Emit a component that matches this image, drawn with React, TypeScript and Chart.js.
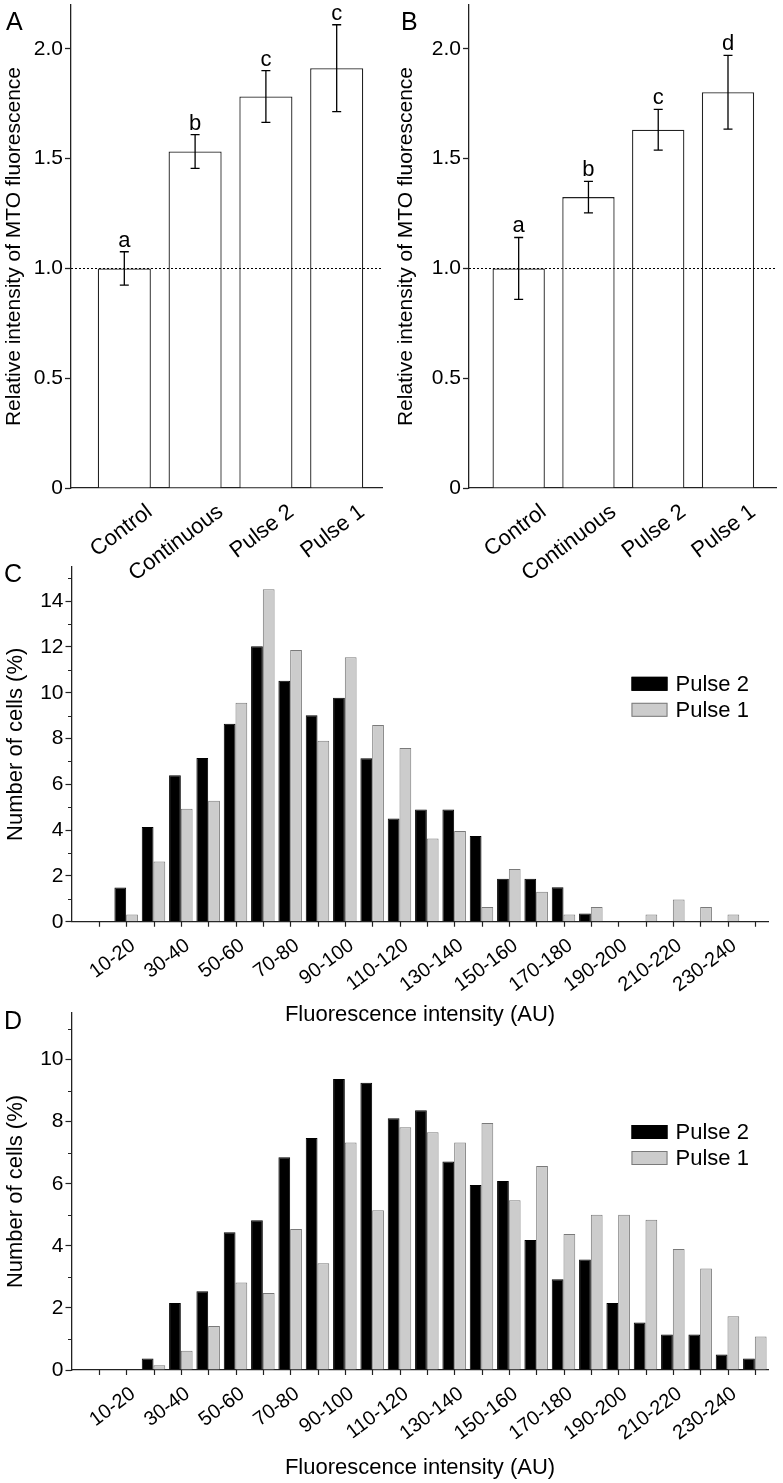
import React, { useEffect, useRef } from 'react';
import { Chart, registerables } from 'chart.js';

Chart.register(...registerables);

const FONT = '"Liberation Sans", Arial, Helvetica, sans-serif';
Chart.defaults.font.family = FONT;

// ---------- Panels A & B ----------
const treatments = ['Control', 'Continuous', 'Pulse 2', 'Pulse 1'];
const meanA = [1.0, 1.533, 1.783, 1.912];
const errA = [0.076, 0.077, 0.118, 0.198];
const lettersA = ['a', 'b', 'c', 'c'];
const meanB = [1.0, 1.325, 1.632, 1.803];
const errB = [0.141, 0.072, 0.093, 0.168];
const lettersB = ['a', 'b', 'c', 'd'];
const yTicksAB = [0, 0.5, 1, 1.5, 2];
const yTickLabelsAB = ['0', '0.5', '1.0', '1.5', '2.0'];
const refLineValue = 1;

// ---------- Panels C & D ----------
const bins = [
  '0-10', '10-20', '20-30', '30-40', '40-50', '50-60', '60-70', '70-80', '80-90', '90-100',
  '100-110', '110-120', '120-130', '130-140', '140-150', '150-160', '160-170', '170-180',
  '180-190', '190-200', '200-210', '210-220', '220-230', '230-240', '240-250',
];
const pulse2C = [0, 1.5, 4.14, 6.4, 7.15, 8.65, 12.03, 10.52, 9.02, 9.78, 7.14, 4.51, 4.9, 4.9, 3.75, 1.88, 1.88, 1.51, 0.36, 0, 0, 0, 0, 0, 0];
const pulse1C = [0, 0.32, 2.63, 4.94, 5.29, 9.56, 14.52, 11.87, 7.91, 11.55, 8.59, 7.59, 3.64, 3.96, 0.65, 2.3, 1.31, 0.32, 0.65, 0, 0.32, 0.97, 0.65, 0.32, 0];
const pulse2D = [0, 0, 0.37, 2.16, 2.54, 4.44, 4.82, 6.85, 7.47, 9.37, 9.25, 8.11, 8.37, 6.72, 5.96, 6.09, 4.19, 2.92, 3.56, 2.16, 1.53, 1.14, 1.14, 0.5, 0.37];
const pulse1D = [0, 0, 0.15, 0.62, 1.42, 2.82, 2.48, 4.54, 3.44, 7.33, 5.15, 7.82, 7.66, 7.33, 7.96, 5.47, 6.57, 4.38, 5.0, 5.0, 4.84, 3.9, 3.27, 1.73, 1.08];
const yTicksC = [0, 2, 4, 6, 8, 10, 12, 14];
const yMinorC = [1, 3, 5, 7, 9, 11, 13, 15];
const yTicksD = [0, 2, 4, 6, 8, 10];
const yMinorD = [1, 3, 5, 7, 9, 11];
const seriesNames = ['Pulse 2', 'Pulse 1'];

const AXIS = '#222';
const LABEL_SHIFT_AB = 0.36;
const LABEL_SHIFT_CD = 0.25;

function makeAnnot(errs: number[], letters: string[]) {
  return {
    id: 'annot',
    afterDatasetsDraw(chart: any) {
      const { ctx, chartArea } = chart;
      const y = chart.scales.y;
      const meta = chart.getDatasetMeta(0);
      const data = chart.data.datasets[0].data;
      ctx.save();
      ctx.strokeStyle = '#000';
      ctx.lineWidth = 1.2;
      ctx.setLineDash([2, 2]);
      const yr = Math.round(y.getPixelForValue(refLineValue)) + 0.5;
      ctx.beginPath();
      ctx.moveTo(chartArea.left, yr);
      ctx.lineTo(chartArea.right, yr);
      ctx.stroke();
      ctx.setLineDash([]);
      ctx.lineWidth = 1.3;
      ctx.fillStyle = '#000';
      ctx.font = `22px ${FONT}`;
      ctx.textAlign = 'center';
      ctx.textBaseline = 'alphabetic';
      data.forEach((d: any, i: number) => {
        const cx = meta.data[i].x;
        const top = y.getPixelForValue(d.y + errs[i]);
        const bot = y.getPixelForValue(d.y - errs[i]);
        ctx.beginPath();
        ctx.moveTo(cx, top);
        ctx.lineTo(cx, bot);
        ctx.moveTo(cx - 4.5, top);
        ctx.lineTo(cx + 4.5, top);
        ctx.moveTo(cx - 4.5, bot);
        ctx.lineTo(cx + 4.5, bot);
        ctx.stroke();
        ctx.fillText(letters[i], cx, top - 5);
      });
      ctx.restore();
    },
  };
}

function makeHistExtras(minor: number[], legendDy: number) {
  return {
    id: 'histExtras',
    afterDraw(chart: any) {
      const { ctx, chartArea } = chart;
      const x = chart.scales.x;
      const y = chart.scales.y;
      ctx.save();
      ctx.strokeStyle = AXIS;
      ctx.lineWidth = 1.2;
      ctx.beginPath();
      minor.forEach((v) => {
        const py = Math.round(y.getPixelForValue(v)) + 0.5;
        ctx.moveTo(chartArea.left - 3.5, py);
        ctx.lineTo(chartArea.left, py);
      });
      bins.forEach((_, i) => {
        const px = Math.round(x.getPixelForValue(i)) + 0.5;
        ctx.moveTo(px, chartArea.bottom);
        ctx.lineTo(px, chartArea.bottom + 5);
      });
      ctx.stroke();
      // legend
      ctx.font = `22px ${FONT}`;
      ctx.textAlign = 'left';
      ctx.textBaseline = 'middle';
      chart.data.datasets.forEach((ds: any, i: number) => {
        const bx = chartArea.right - 137;
        const by = chartArea.top + legendDy + i * 26;
        ctx.fillStyle = ds.backgroundColor;
        ctx.fillRect(bx, by, 36, 14);
        ctx.strokeStyle = ds.borderColor;
        ctx.lineWidth = 1;
        ctx.strokeRect(bx + 0.5, by + 0.5, 35, 13);
        ctx.fillStyle = '#000';
        ctx.fillText(ds.label, bx + 44, by + 8);
      });
      ctx.restore();
    },
  };
}

function barConfig(means: number[], errs: number[], letters: string[], yWidth: number, padRight: number, xMin: number, xMax: number) {
  return {
    type: 'bar',
    data: {
      datasets: [
        {
          data: means.map((v, i) => ({ x: i, y: v })),
          backgroundColor: '#ffffff',
          borderColor: AXIS,
          borderWidth: 1.3,
          categoryPercentage: 1,
          barPercentage: 0.75,
        },
      ],
    },
    options: {
      responsive: false,
      animation: false,
      layout: { padding: { left: 0, right: padRight, top: 5, bottom: 0 } },
      plugins: { legend: { display: false }, tooltip: { enabled: false } },
      scales: {
        x: {
          type: 'linear',
          min: xMin,
          max: xMax,
          offset: false,
          grid: { display: false, drawTicks: false, offset: false },
          border: { display: true, color: AXIS, width: 1.3 },
          afterBuildTicks: (s: any) => {
            s.ticks = treatments.map((_, i) => ({ value: i + LABEL_SHIFT_AB }));
          },
          afterFit: (s: any) => {
            s.height = 112;
            s.paddingLeft = 0;
            s.paddingRight = 0;
          },
          ticks: {
            autoSkip: false,
            maxRotation: 37,
            minRotation: 37,
            padding: 11,
            color: '#000',
            font: { size: 22 },
            callback: (_v: any, i: number) => treatments[i],
          },
        },
        y: {
          type: 'linear',
          min: 0,
          max: 2.2,
          grid: { drawOnChartArea: false, drawTicks: true, tickLength: 6, tickWidth: 1.3, tickColor: AXIS },
          border: { display: true, color: AXIS, width: 1.3 },
          afterBuildTicks: (s: any) => {
            s.ticks = yTicksAB.map((v) => ({ value: v }));
          },
          afterFit: (s: any) => {
            s.width = yWidth;
            s.paddingTop = 0;
            s.paddingBottom = 0;
          },
          ticks: {
            padding: 2,
            color: '#000',
            font: { size: 21 },
            callback: (_v: any, i: number) => yTickLabelsAB[i],
          },
          title: {
            display: true,
            text: 'Relative intensity of MTO fluorescence',
            color: '#000',
            font: { size: 21 },
            padding: { top: 2, bottom: 0 },
          },
        },
      },
    },
    plugins: [makeAnnot(errs, letters)],
  };
}

function histConfig(p2: number[], p1: number[], yMax: number, majors: number[], minor: number[], padTop: number, xHeight: number, legendDy: number) {
  return {
    type: 'bar',
    data: {
      datasets: [
        {
          label: seriesNames[0],
          data: p2.map((v, i) => ({ x: i, y: v })),
          backgroundColor: '#000000',
          borderColor: '#000000',
          borderWidth: 1,
          categoryPercentage: 0.86,
          barPercentage: 1,
        },
        {
          label: seriesNames[1],
          data: p1.map((v, i) => ({ x: i, y: v })),
          backgroundColor: '#cccccc',
          borderColor: '#7a7a7a',
          borderWidth: 1,
          categoryPercentage: 0.86,
          barPercentage: 1,
        },
      ],
    },
    options: {
      responsive: false,
      animation: false,
      layout: { padding: { left: 0, right: 14.5, top: padTop, bottom: 0 } },
      plugins: { legend: { display: false }, tooltip: { enabled: false } },
      scales: {
        x: {
          type: 'linear',
          min: -1,
          max: 24.5,
          offset: false,
          grid: { display: false, drawTicks: false, offset: false },
          border: { display: true, color: AXIS, width: 1.3 },
          afterBuildTicks: (s: any) => {
            s.ticks = bins.map((_, i) => ({ value: i + LABEL_SHIFT_CD }));
          },
          afterFit: (s: any) => {
            s.height = xHeight;
            s.paddingLeft = 0;
            s.paddingRight = 0;
          },
          ticks: {
            autoSkip: false,
            maxRotation: 37,
            minRotation: 37,
            padding: 12,
            color: '#000',
            font: { size: 20 },
            callback: (_v: any, i: number) => (i % 2 === 1 ? bins[i] : ''),
          },
          title: {
            display: true,
            text: 'Fluorescence intensity (AU)',
            color: '#000',
            font: { size: 22 },
            padding: { top: 0, bottom: 2 },
          },
        },
        y: {
          type: 'linear',
          min: 0,
          max: yMax,
          grid: { drawOnChartArea: false, drawTicks: true, tickLength: 6, tickWidth: 1.2, tickColor: AXIS },
          border: { display: true, color: AXIS, width: 1.3 },
          afterBuildTicks: (s: any) => {
            s.ticks = majors.map((v) => ({ value: v }));
          },
          afterFit: (s: any) => {
            s.width = 71.5;
            s.paddingTop = 0;
            s.paddingBottom = 0;
          },
          ticks: {
            padding: 2,
            color: '#000',
            font: { size: 21 },
            callback: (v: any) => String(v),
          },
          title: {
            display: true,
            text: 'Number of cells (%)',
            color: '#000',
            font: { size: 22 },
            padding: { top: 3, bottom: 0 },
          },
        },
      },
    },
    plugins: [makeHistExtras(minor, legendDy)],
  };
}

function ChartCanvas({ left, top, width, height, config }: { left: number; top: number; width: number; height: number; config: () => any }) {
  const ref = useRef<HTMLCanvasElement | null>(null);
  useEffect(() => {
    if (!ref.current) return;
    const chart = new Chart(ref.current, config());
    return () => chart.destroy();
  }, []);
  return (
    <canvas
      ref={ref}
      width={width}
      height={height}
      style={{ position: 'absolute', left, top, width, height }}
    />
  );
}

const panelLabel = (text: string, left: number, top: number) => (
  <div
    key={text}
    style={{
      position: 'absolute',
      left,
      top,
      fontFamily: FONT,
      fontSize: 25,
      lineHeight: '25px',
      color: '#000',
    }}
  >
    {text}
  </div>
);

export default function App() {
  return (
    <div style={{ position: 'absolute', left: 0, top: 0, width: 783, height: 1483, background: '#fff', overflow: 'hidden' }}>
      <ChartCanvas left={0} top={0} width={392} height={600} config={() => barConfig(meanA, errA, lettersA, 71, 10, -0.753, 3.64)} />
      <ChartCanvas left={392} top={0} width={391} height={600} config={() => barConfig(meanB, errB, lettersB, 77, 6.3, -0.712, 3.698)} />
      <ChartCanvas left={0} top={545} width={783} height={485} config={() => histConfig(pulse2C, pulse1C, 15.5, yTicksC, yMinorC, 21.8, 108.2, 110)} />
      <ChartCanvas left={0} top={1000} width={783} height={483} config={() => histConfig(pulse2D, pulse1D, 11.5, yTicksD, yMinorD, 13, 113, 112)} />
      {panelLabel('A', 6, 9)}
      {panelLabel('B', 401, 9)}
      {panelLabel('C', 4, 561)}
      {panelLabel('D', 4, 1008)}
    </div>
  );
}
